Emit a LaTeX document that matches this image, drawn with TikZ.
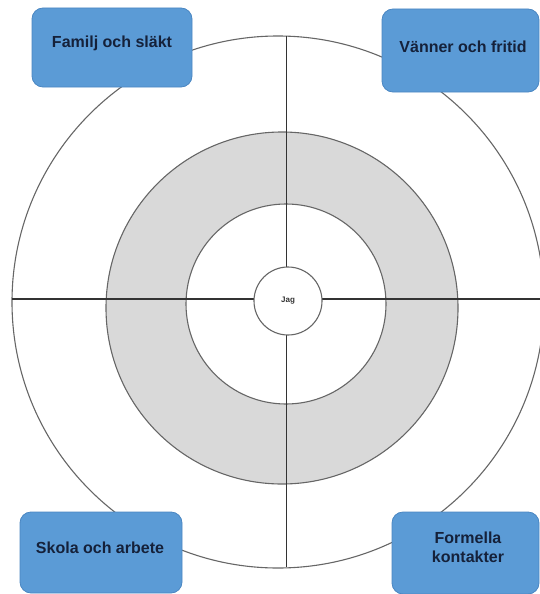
\documentclass[tikz,border=0pt]{standalone}
\usepackage{fontspec}
\setmainfont{Liberation Sans}
\definecolor{boxblue}{HTML}{5B9BD6}
\definecolor{boxedge}{HTML}{4A86C2}
\definecolor{boxtext}{HTML}{15213A}
\definecolor{ringgray}{HTML}{D9D9D9}
\definecolor{circline}{HTML}{666666}
\definecolor{axisline}{HTML}{333333}
\tikzset{
  ring/.style={draw=circline, line width=1.1pt},
  axis/.style={draw=axisline, line width=1.7pt},
  bluebox/.style={draw=boxedge, line width=0.8pt, fill=boxblue, rounded corners=11pt, inner sep=0pt},
  boxlabel/.style={text=boxtext, font=\fontsize{16}{19}\selectfont\bfseries, align=center, inner sep=0pt},
}
\begin{document}
\begin{tikzpicture}[x=1pt,y=-1pt]
\useasboundingbox (0,0) rectangle (540,594);
\clip (0,0) rectangle (540,594);
% outer circle
\draw[ring] (278,302) circle[radius=266pt];
% grey ring
\fill[ringgray, draw=circline, line width=1.1pt] (282,308) circle[radius=176pt];
\draw[ring, fill=white] (286,304) circle[radius=100pt];
% axes
\coordinate (left) at (12,299);
\coordinate (right) at (540,299);
\coordinate (top) at (286.5,36);
\coordinate (bottom) at (286.5,567);
\draw[axis] (left) -- (right);
\draw[axis] (top) -- (bottom);
% centre
\node[circle, draw=circline, line width=1.1pt, fill=white, minimum size=68pt, inner sep=0pt,
      font=\fontsize{8}{9}\selectfont\bfseries, text=axisline] (jag) at (288,301) {Jag};
% boxes
\node[bluebox, minimum width=160pt, minimum height=79pt] (fam) at (112,47.5) {};
\node[boxlabel] (famt) at (112,43) {Familj och släkt};
\node[bluebox, minimum width=157pt, minimum height=83pt] (van) at (460.5,50.5) {};
\node[boxlabel] (vant) at (463,47) {Vänner och fritid};
\node[bluebox, minimum width=162pt, minimum height=81pt] (sko) at (101,552.5) {};
\node[boxlabel] (skot) at (100,548) {Skola och arbete};
\node[bluebox, minimum width=147pt, minimum height=82pt] (for) at (465.5,553) {};
\node[boxlabel] (fort) at (468,547) {Formella\\kontakter};
\end{tikzpicture}
\end{document}
